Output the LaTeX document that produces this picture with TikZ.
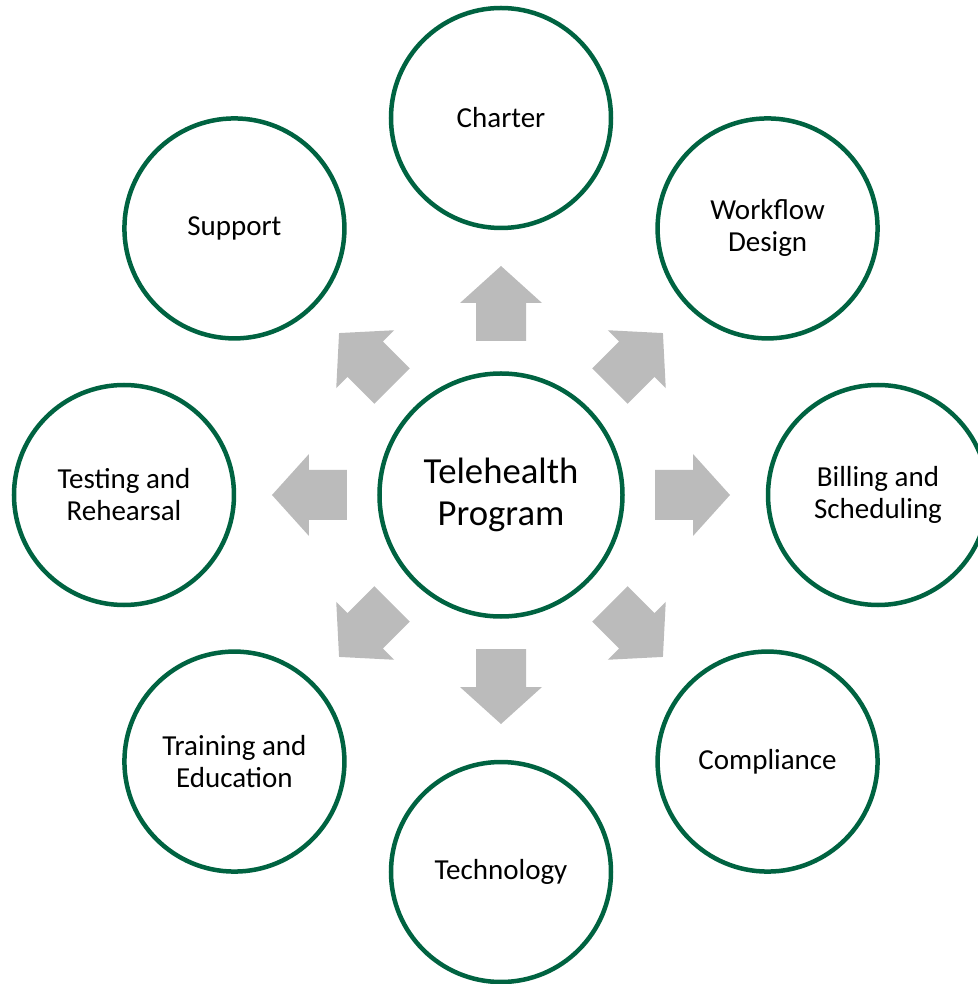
\documentclass[tikz,border=0pt]{standalone}
\usepackage{fontspec}
\setmainfont{Carlito}
\definecolor{tgreen}{RGB}{0,99,65}
\definecolor{tgray}{RGB}{187,187,187}

\begin{document}
\begin{tikzpicture}[x=1pt, y=1pt]
	\tikzstyle{hub} = [ draw=tgreen, circle, line width=4.5pt, minimum size=243pt, inner sep=0pt, align=center, font={\fontsize{36.7}{42}\selectfont}];
	\tikzstyle{part} = [ draw=tgreen, circle, line width=4.5pt, minimum size=220pt, inner sep=0pt, align=center, font={\fontsize{29}{32}\selectfont}];
	\tikzstyle{block} = [ fill=tgray, draw=none ];

	\useasboundingbox (-501,-489) rectangle (476,495);

	\node[hub] (hub) at (0,0) {Telehealth\\Program};

	\def \parts {{Charter}, {Workflow\\Design}, {Billing and\\Scheduling}, {Compliance}, {Technology}, {Training and\\Education}, {Testing and\\Rehearsal}, {Support}}

	\foreach \t [count=\i] in \parts {
		\node[part] (p\i) at ({90-45*(\i-1)}:377) {\t};
	}

	% block arrows round the hub
	\foreach \a in {0,45,...,315}
		\fill[block, rotate=\a] (154,-25) -- (192,-25) -- (192,-41) -- (229,0) -- (192,41) -- (192,25) -- (154,25) -- cycle;
\end{tikzpicture}
\end{document}
